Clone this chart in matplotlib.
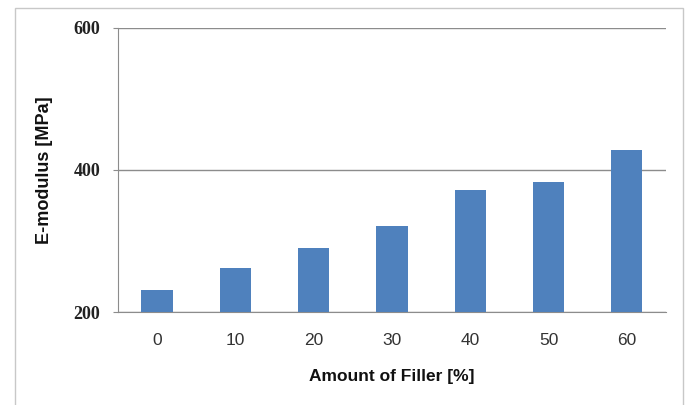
import matplotlib.pyplot as plt
from matplotlib.patches import Rectangle

filler = ['0', '10', '20', '30', '40', '50', '60']
modulus = [231, 262, 290, 321, 371, 383, 428]
yticks = [200, 400, 600]

fig = plt.figure(figsize=(6.88, 4.05), dpi=100)
ax = fig.add_axes([0.1712, 0.2296, 0.7968, 0.702])

# light frame around the chart area
fig.patches.append(Rectangle((14.5/688, -0.05), (683-14.5)/688, 1.05 - 7.5/405,
                             transform=fig.transFigure, fill=False,
                             edgecolor='#c8c8c8', linewidth=1))

x = range(len(filler))
ax.bar(x, modulus, width=0.4, color='#4F81BD', zorder=3)

ax.set_xlim(-0.5, 6.5)
ax.set_ylim(200, 600)
ax.set_yticks(yticks)
ax.set_xticks(list(x))
ax.set_xticklabels(filler, fontsize=12.5, family='Liberation Sans', color='#333333')
ax.set_yticklabels([str(v) for v in yticks], fontsize=13,
                   family='Liberation Serif', fontweight='bold', color='#222222')

ax.grid(axis='y', color='#8c8c8c', linewidth=1, zorder=0)
for s in ['top', 'right']:
    ax.spines[s].set_visible(False)
ax.spines['left'].set_color('#8c8c8c')
ax.spines['bottom'].set_color('#8c8c8c')
ax.tick_params(axis='y', length=3.6, color='#8c8c8c', pad=9)
ax.tick_params(axis='x', length=0, pad=15)

ax.set_xlabel('Amount of Filler [%]', fontsize=12.5, family='Liberation Sans',
              fontweight='bold', color='#111111', labelpad=15)
ax.set_ylabel('E-modulus [MPa]', fontsize=13, family='Liberation Sans',
              fontweight='bold', color='#111111', labelpad=15)

fig.savefig('out.png', dpi=100)
